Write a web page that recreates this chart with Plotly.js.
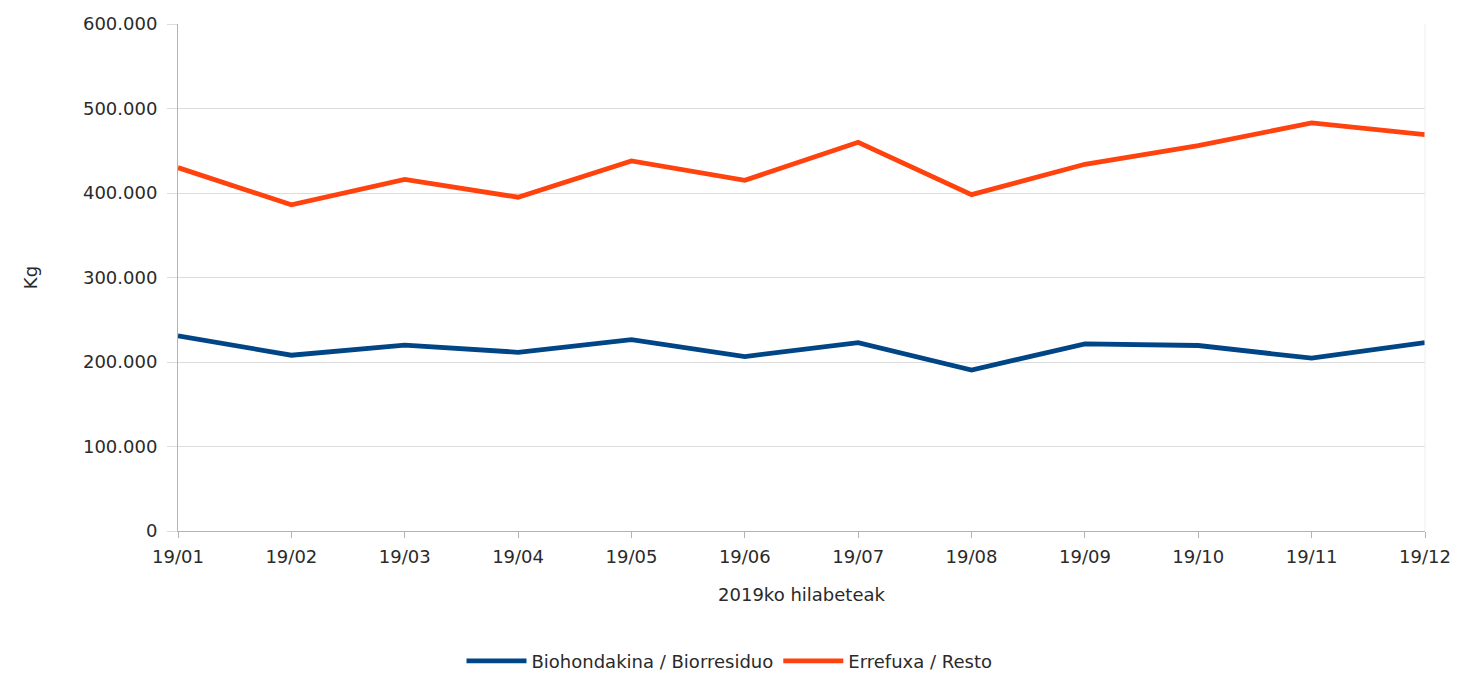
<!DOCTYPE html>
<html>
<head>
<meta charset="utf-8">
<script src="https://cdn.plot.ly/plotly-3.0.1.min.js"></script>
<style>html,body{margin:0;padding:0;background:#fff;}#chart{width:1459px;height:674px;}</style>
</head>
<body>
<div id="chart"></div>
<script>
const months = ["19/01","19/02","19/03","19/04","19/05","19/06","19/07","19/08","19/09","19/10","19/11","19/12"];
const biohondakina = [231000, 208000, 220000, 211500, 226500, 206500, 223000, 190500, 221500, 219500, 204500, 223000];
const errefuxa = [430000, 386000, 416000, 395000, 438000, 415000, 460000, 398000, 434000, 456000, 483000, 469000];
const yTickVals = [0, 100000, 200000, 300000, 400000, 500000, 600000];
const yTickText = ["0", "100.000", "200.000", "300.000", "400.000", "500.000", "600.000"];
const seriesNames = ["Biohondakina / Biorresiduo", "Errefuxa / Resto"];

const font = {family: "DejaVu Sans, Liberation Sans, Arial, sans-serif", size: 18, color: "#2a2a2a"};

const traces = [
  {x: months, y: biohondakina, name: seriesNames[0], type: "scatter", mode: "lines",
   line: {color: "#004586", width: 4.8}},
  {x: months, y: errefuxa, name: seriesNames[1], type: "scatter", mode: "lines",
   line: {color: "#ff420e", width: 4.8}}
];

const layout = {
  width: 1459, height: 674,
  margin: {l: 178, r: 34, t: 24, b: 143},
  paper_bgcolor: "#fff", plot_bgcolor: "#fff",
  font: font,
  showlegend: true,
  legend: {orientation: "h", xref: "container", yref: "container", x: 0.5, xanchor: "center",
           y: 0.019, yanchor: "middle", font: font, itemwidth: 60},
  xaxis: {
    type: "category", range: [0, 11],
    showgrid: false, showline: true, linecolor: "#b3b3b3", linewidth: 1,
    ticks: "outside", ticklen: 6, tickcolor: "#b3b3b3", ticklabelstandoff: 3,
    tickfont: font, zeroline: false,
    title: {text: "2019ko hilabeteak", font: font, standoff: 22}
  },
  yaxis: {
    range: [0, 600000], tickvals: yTickVals, ticktext: yTickText,
    showgrid: true, gridcolor: "#dcdcdc", gridwidth: 1,
    showline: true, linecolor: "#b3b3b3", linewidth: 1,
    ticks: "outside", ticklen: 10, tickcolor: "#dcdcdc", ticklabelstandoff: 6,
    tickfont: font, zeroline: false,
    title: {text: "Kg", font: font, standoff: 40}
  },
  shapes: [
    {type: "line", xref: "paper", yref: "paper", x0: 1, x1: 1, y0: 0, y1: 1,
     line: {color: "#eeeeee", width: 1}}
  ]
};

Plotly.newPlot("chart", traces, layout, {displayModeBar: false, staticPlot: true});
</script>
</body>
</html>
